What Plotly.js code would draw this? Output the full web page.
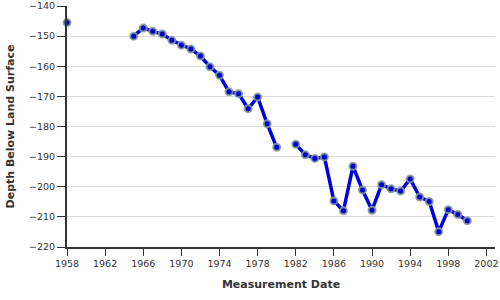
<!DOCTYPE html>
<html>
<head>
<meta charset="utf-8">
<script src="https://cdn.plot.ly/plotly-3.0.1.min.js"></script>
<style>html,body{margin:0;padding:0;background:#fff;}#chart{width:500px;height:300px;}</style>
</head>
<body>
<div id="chart"></div>
<script>
// Measurement years (null depth marks a gap in the record)
var years = [1958, 1961, 1965, 1966, 1967, 1968, 1969, 1970, 1971, 1972, 1973, 1974, 1975, 1976, 1977, 1978, 1979, 1980, 1981,
             1982, 1983, 1984, 1985, 1986, 1987, 1988, 1989, 1990, 1991, 1992, 1993, 1994, 1995, 1996, 1997, 1998, 1999, 2000];
var depths = [-145.5, null, -150.0, -147.3, -148.4, -149.3, -151.4, -153.0, -154.3, -156.6, -160.2, -163.0, -168.5, -169.1, -174.1, -170.2, -179.1, -186.9, null,
              -185.9, -189.4, -190.6, -190.1, -204.7, -208.0, -193.2, -201.1, -207.8, -199.3, -200.7, -201.4, -197.4, -203.4, -204.9, -214.9, -207.6, -209.2, -211.3];
var xTickVals = [1958, 1962, 1966, 1970, 1974, 1978, 1982, 1986, 1990, 1994, 1998, 2002];
var xTickText = ['1958', '1962', '1966', '1970', '1974', '1978', '1982', '1986', '1990', '1994', '1998', '2002'];
var yTickVals = [-220, -210, -200, -190, -180, -170, -160, -150, -140];
var xTitle = 'Measurement Date';
var yTitle = 'Depth Below Land Surface';

var trace = {
  x: years, y: depths, type: 'scatter', mode: 'lines+markers',
  connectgaps: false, cliponaxis: false,
  line: {color: '#0000dd', width: 3.5},
  marker: {color: '#0000cc', size: 7, line: {color: 'rgba(135,155,155,0.85)', width: 2}},
  hoverinfo: 'none'
};
var font = {family: 'DejaVu Sans', size: 9.5, color: '#333'};
var layout = {
  width: 500, height: 300,
  margin: {l: 67, r: 5, t: 6, b: 53, pad: 0},
  paper_bgcolor: '#fff', plot_bgcolor: '#fff',
  showlegend: false,
  font: font,
  xaxis: {
    range: [1958, 2002.9], tickvals: xTickVals, ticktext: xTickText,
    showgrid: false, zeroline: false,
    showline: true, linecolor: '#333', linewidth: 2,
    ticks: 'outside', ticklen: 7, tickcolor: '#333', tickwidth: 1,
    tickfont: font, ticklabeloverflow: 'allow',
    title: {text: xTitle, font: {family: 'DejaVu Sans', size: 11, color: '#333', weight: 'bold'}, standoff: 12},
    automargin: false
  },
  yaxis: {
    range: [-220, -140], tickvals: yTickVals,
    showgrid: true, gridcolor: '#dcdcdc', gridwidth: 1, zeroline: false,
    showline: true, linecolor: '#333', linewidth: 2,
    ticks: 'outside', ticklen: 8, tickcolor: '#333', tickwidth: 1,
    tickfont: font, ticklabeloverflow: 'allow',
    title: {text: yTitle, font: {family: 'DejaVu Sans', size: 11, color: '#333', weight: 'bold'}, standoff: 12},
    automargin: false
  }
};
Plotly.newPlot('chart', [trace], layout, {staticPlot: true, displayModeBar: false});
</script>
</body>
</html>
